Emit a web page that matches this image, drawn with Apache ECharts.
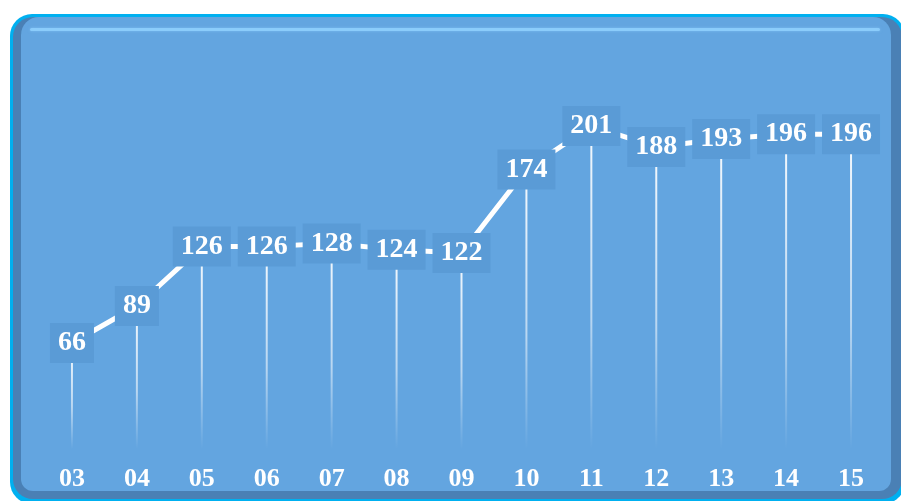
<!DOCTYPE html>
<html><head><meta charset="utf-8">
<script src="https://cdn.jsdelivr.net/npm/echarts@6/dist/echarts.min.js"></script>
<style>html,body{margin:0;padding:0;background:#fff}#c{width:901px;height:501px}</style>
</head><body><div id="c"></div>
<script>
const categories = ['03','04','05','06','07','08','09','10','11','12','13','14','15'];
const values = [66, 89, 126, 126, 128, 124, 122, 174, 201, 188, 193, 196, 196];

const chart = echarts.init(document.getElementById('c'), null, {renderer:'canvas'});
const font = '"Liberation Serif","Times New Roman",serif';
chart.setOption({
  animation: false,
  backgroundColor: '#ffffff',
  graphic: [
    {type:'rect', z:-10, shape:{x:10,y:14,width:895,height:490,r:22}, style:{fill:'#00b0f0'}},
    {type:'rect', z:-9, shape:{x:13,y:17,width:889,height:482,r:20}, style:{fill:'#4a80b5'}},
    {type:'rect', z:-8, shape:{x:21,y:17,width:870,height:474,r:[18,18,12,12]}, style:{fill:'#63a5e0'}},
    {type:'rect', z:-7, shape:{x:30,y:28,width:850,height:3,r:1.5}, style:{fill:'rgba(145,210,255,0.8)', shadowBlur:3, shadowColor:'rgba(145,210,255,0.7)'}}
  ],
  grid: {left: 39.5, right: 17.5, top: 49, bottom: 52},
  xAxis: {
    type: 'category', data: categories, boundaryGap: true,
    axisLine: {show:false}, axisTick: {show:false}, splitLine:{show:false},
    axisLabel: {color:'#fff', fontFamily: font, fontWeight:'bold', fontSize:26, margin:17}
  },
  yAxis: {type:'value', min:0, max:249, show:false, splitLine:{show:false}},
  series: [
    {
      type:'bar', data: values, barWidth: 2, z: 1,
      itemStyle: {color: new echarts.graphic.LinearGradient(0,0,0,1,[
        {offset:0, color:'rgba(255,255,255,0.95)'},
        {offset:0.6, color:'rgba(255,255,255,0.55)'},
        {offset:1, color:'rgba(255,255,255,0)'}
      ])}
    },
    {
      type:'line', data: values, z: 3, symbol:'circle', symbolSize: 2, showSymbol: true,
      itemStyle: {color:'rgba(255,255,255,0)'},
      lineStyle: {color:'#fff', width:5},
      label: {
        show:true, position:'inside', color:'#fff', fontFamily: font, fontWeight:'bold', fontSize:28,
        backgroundColor:'#5a9bd6', padding:[6,8,6,8]
      },
      labelLayout: {hideOverlap:false}
    }
  ]
});
</script></body></html>
